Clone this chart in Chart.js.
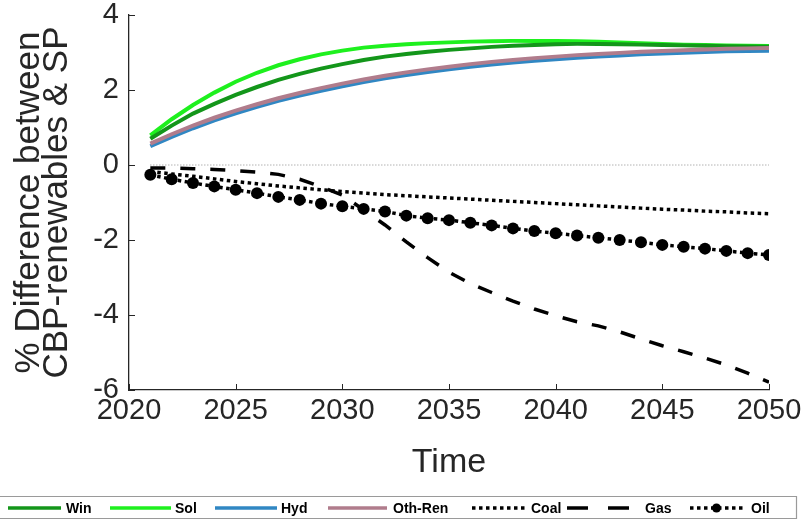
<!DOCTYPE html>
<html>
<head>
<meta charset="utf-8">
<script src="https://cdn.jsdelivr.net/npm/chart.js@4/dist/chart.umd.min.js"></script>
<style>
  html, body { margin: 0; padding: 0; background: #ffffff; }
  #wrap { width: 801px; height: 522px; }
</style>
</head>
<body>
<div id="wrap"><canvas id="chart" width="801" height="522"></canvas></div>
<script>
// Years on the horizontal axis
const years = [2021, 2022, 2023, 2024, 2025, 2026, 2027, 2028, 2029, 2030,
               2031, 2032, 2033, 2034, 2035, 2036, 2037, 2038, 2039, 2040,
               2041, 2042, 2043, 2044, 2045, 2046, 2047, 2048, 2049, 2050];

// % difference between CBP-renewables and SP, by technology
const win = [0.70, 1.05, 1.37, 1.63, 1.87, 2.08, 2.27, 2.43, 2.57, 2.69,
             2.80, 2.89, 2.96, 3.02, 3.07, 3.11, 3.15, 3.18, 3.20, 3.22,
             3.23, 3.23, 3.22, 3.21, 3.20, 3.19, 3.18, 3.17, 3.16, 3.15];
const sol = [0.79, 1.22, 1.60, 1.93, 2.22, 2.46, 2.66, 2.82, 2.95, 3.05,
             3.13, 3.18, 3.22, 3.25, 3.27, 3.29, 3.30, 3.31, 3.31, 3.31,
             3.30, 3.29, 3.27, 3.25, 3.23, 3.21, 3.20, 3.19, 3.18, 3.17];
const hyd = [0.50, 0.75, 0.98, 1.19, 1.38, 1.55, 1.71, 1.85, 1.98, 2.10,
             2.21, 2.31, 2.40, 2.48, 2.55, 2.62, 2.68, 2.73, 2.78, 2.82,
             2.86, 2.89, 2.92, 2.95, 2.97, 2.99, 3.01, 3.03, 3.04, 3.05];
const othRen = [0.57, 0.82, 1.05, 1.26, 1.45, 1.62, 1.78, 1.92, 2.05, 2.17,
                2.28, 2.38, 2.47, 2.55, 2.62, 2.69, 2.75, 2.80, 2.85, 2.89,
                2.93, 2.96, 2.99, 3.02, 3.04, 3.06, 3.08, 3.10, 3.11, 3.12];
const coal = [-0.17, -0.24, -0.30, -0.37, -0.44, -0.50, -0.56, -0.61, -0.66, -0.71,
              -0.75, -0.79, -0.82, -0.85, -0.88, -0.91, -0.94, -0.97, -1.00, -1.03,
              -1.06, -1.09, -1.12, -1.15, -1.18, -1.20, -1.23, -1.25, -1.28, -1.30];
const gas = [-0.08, -0.08, -0.10, -0.12, -0.15, -0.19, -0.25, -0.38, -0.58, -0.80,
             -1.20, -1.60, -2.05, -2.47, -2.86, -3.16, -3.40, -3.63, -3.84, -4.02,
             -4.18, -4.29, -4.45, -4.64, -4.82, -4.98, -5.15, -5.33, -5.55, -5.79];
const oil = [-0.26, -0.38, -0.48, -0.57, -0.66, -0.75, -0.85, -0.93, -1.03, -1.10,
             -1.17, -1.24, -1.35, -1.42, -1.47, -1.54, -1.61, -1.69, -1.76, -1.82,
             -1.88, -1.94, -2.00, -2.06, -2.13, -2.18, -2.23, -2.29, -2.35, -2.40];

// Axis ticks
const xTicks = [2020, 2025, 2030, 2035, 2040, 2045, 2050];
const yTicks = [-6, -4, -2, 0, 2, 4];

const seriesNames = ['Win', 'Sol', 'Hyd', 'Oth-Ren', 'Coal', 'Gas', 'Oil'];

const pts = (vals) => vals.map((v, i) => ({ x: years[i], y: v }));

const FONT = "'Liberation Sans', Arial, sans-serif";
const AXIS_COLOR = '#262626';

const lineBase = { fill: false, tension: 0, pointRadius: 0, pointHoverRadius: 0 };

const datasets = [
  { ...lineBase, label: seriesNames[0], data: pts(win), borderColor: '#13961a', borderWidth: 4, order: 7 },
  { ...lineBase, label: seriesNames[1], data: pts(sol), borderColor: '#1ef01e', borderWidth: 4, order: 8 },
  { ...lineBase, label: seriesNames[2], data: pts(hyd), borderColor: '#3087c3', borderWidth: 4, order: 6 },
  { ...lineBase, label: seriesNames[3], data: pts(othRen), borderColor: '#b07c8c', borderWidth: 4, order: 5 },
  { ...lineBase, label: seriesNames[4], data: pts(coal), borderColor: '#000000', borderWidth: 3.5,
    borderDash: [3.5, 3.5], borderCapStyle: 'butt', order: 4 },
  { ...lineBase, label: seriesNames[5], data: pts(gas), borderColor: '#000000', borderWidth: 3.5,
    borderDash: [15, 15], borderCapStyle: 'butt', order: 2 },
  { ...lineBase, label: seriesNames[6], data: pts(oil), borderColor: '#000000', borderWidth: 3.5,
    borderDash: [3.5, 3.5], borderCapStyle: 'butt',
    pointRadius: 6, pointStyle: 'circle', pointBackgroundColor: '#000000', pointBorderColor: '#000000',
    pointBorderWidth: 0, order: 1 },
  // zero reference line
  { ...lineBase, label: '_zero', data: [{ x: years[0], y: 0 }, { x: years[years.length - 1], y: 0 }],
    borderColor: '#8c8c8c', borderWidth: 1, borderDash: [1, 2], order: 9 }
];

// Inward-pointing tick marks on the left and bottom axes
const inwardTicks = {
  id: 'inwardTicks',
  afterDatasetsDraw(chart) {
    const { ctx, chartArea: a, scales: { x, y } } = chart;
    ctx.save();
    ctx.strokeStyle = AXIS_COLOR;
    ctx.lineWidth = 1;
    const len = 6;
    xTicks.forEach((t) => {
      const px = Math.round(x.getPixelForValue(t)) + 0.5;
      ctx.beginPath(); ctx.moveTo(px, a.bottom); ctx.lineTo(px, a.bottom - len); ctx.stroke();
    });
    yTicks.forEach((t) => {
      const py = Math.round(y.getPixelForValue(t)) + 0.5;
      ctx.beginPath(); ctx.moveTo(a.left, py); ctx.lineTo(a.left + len, py); ctx.stroke();
    });
    ctx.restore();
  }
};

// Legend strip across the bottom of the figure
const legendStrip = {
  id: 'legendStrip',
  afterDraw(chart) {
    const { ctx } = chart;
    const top = 496.5, bottom = 518.5, right = 796.5, cy = 508;
    ctx.save();
    ctx.strokeStyle = '#9a9a9a';
    ctx.lineWidth = 1.2;
    ctx.beginPath();
    ctx.moveTo(0, top); ctx.lineTo(right, top); ctx.lineTo(right, bottom); ctx.lineTo(0, bottom);
    ctx.stroke();
    const items = [
      { x0: 8, x1: 61, tx: 66 },
      { x0: 110, x1: 171, tx: 175 },
      { x0: 215, x1: 277, tx: 281 },
      { x0: 328, x1: 387, tx: 393 },
      { x0: 472, x1: 525, tx: 531 },
      { x0: 567, x1: 629, tx: 645, dash: [21, 20] },
      { x0: 690, x1: 743, tx: 751 }
    ];
    items.forEach((it, i) => {
      const ds = chart.data.datasets[i];
      ctx.save();
      ctx.strokeStyle = ds.borderColor;
      ctx.lineWidth = Math.min(ds.borderWidth, 3.5);
      ctx.lineCap = 'butt';
      ctx.setLineDash(it.dash || ds.borderDash || []);
      ctx.beginPath(); ctx.moveTo(it.x0, cy); ctx.lineTo(it.x1, cy); ctx.stroke();
      ctx.setLineDash([]);
      if (ds.pointRadius > 0) {
        ctx.fillStyle = ds.pointBackgroundColor;
        ctx.beginPath(); ctx.arc((it.x0 + it.x1) / 2, cy, 4.5, 0, Math.PI * 2); ctx.fill();
      }
      ctx.fillStyle = '#000000';
      ctx.font = 'bold 14px ' + FONT;
      ctx.textBaseline = 'middle';
      ctx.textAlign = 'left';
      ctx.fillText(ds.label, it.tx, cy + 1);
      ctx.restore();
    });
    ctx.restore();
  }
};

new Chart(document.getElementById('chart'), {
  type: 'line',
  data: { datasets },
  plugins: [inwardTicks, legendStrip],
  options: {
    responsive: false,
    animation: false,
    devicePixelRatio: 1,
    layout: { padding: { left: 0, right: 32, top: 15, bottom: 0 } },
    plugins: { legend: { display: false }, tooltip: { enabled: false } },
    scales: {
      x: {
        type: 'linear',
        min: 2020, max: 2050,
        afterBuildTicks: (s) => { s.ticks = xTicks.map((v) => ({ value: v })); },
        afterFit: (s) => { s.height = 132; s.paddingLeft = 0; s.paddingRight = 0; },
        grid: { display: false, drawTicks: false },
        border: { display: true, color: AXIS_COLOR, width: 1.3 },
        ticks: { color: AXIS_COLOR, padding: 6, font: { family: FONT, size: 29, lineHeight: 1.0 },
                 maxRotation: 0, callback: (v) => String(v) },
        title: { display: true, text: 'Time', color: AXIS_COLOR,
                 font: { family: FONT, size: 34, lineHeight: 1.0 }, padding: { top: 0, bottom: 42 } }
      },
      y: {
        min: -6, max: 4,
        afterBuildTicks: (s) => { s.ticks = yTicks.map((v) => ({ value: v })); },
        afterFit: (s) => { s.width = 129; s.paddingTop = 0; s.paddingBottom = 0; },
        grid: { display: false, drawTicks: false },
        border: { display: true, color: AXIS_COLOR, width: 1.3 },
        ticks: { color: AXIS_COLOR, padding: 10, font: { family: FONT, size: 29, lineHeight: 1.0 },
                 callback: (v) => String(v) },
        title: { display: true, text: ['% Difference between', 'CBP-renewables & SP'], color: AXIS_COLOR,
                 font: { family: FONT, size: 35, lineHeight: 0.78 }, padding: { top: 16, bottom: 0 } }
      }
    }
  }
});
</script>
</body>
</html>
